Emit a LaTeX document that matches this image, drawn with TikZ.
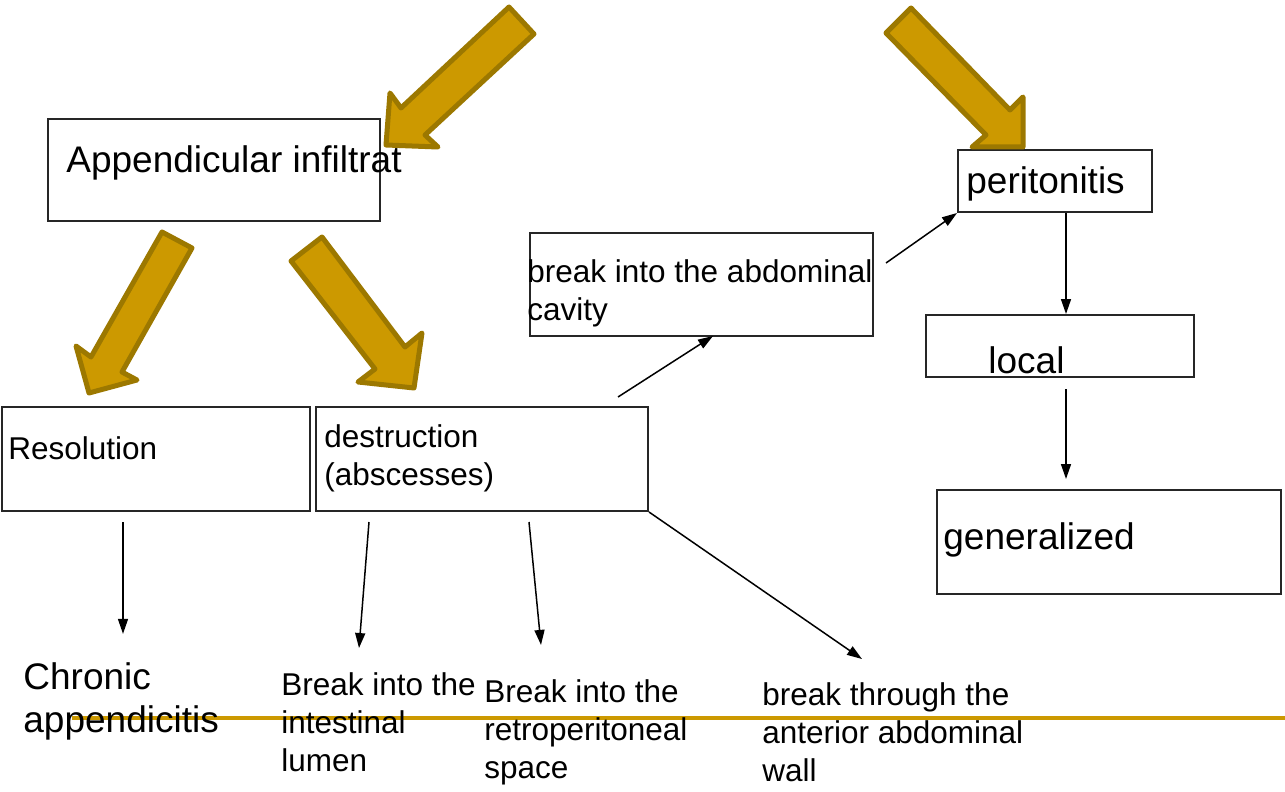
\documentclass[tikz,border=0pt]{standalone}
\usepackage{fontspec}
\setmainfont{Liberation Sans}
\usetikzlibrary{arrows.meta,calc}
\definecolor{gold}{HTML}{CC9900}
\definecolor{golddark}{HTML}{9C7800}
\begin{document}
\begin{tikzpicture}[
    x=0.5pt, y=-0.5pt,
    box/.style={
        rectangle,
        draw=black!85,
        line width=1pt,
        inner sep=0pt
    },
    txt/.style={inner sep=0pt, anchor=west, align=left},
    small/.style={font=\fontsize{15.75}{19}\selectfont},
    big/.style={font=\fontsize{18.5}{21.5}\selectfont},
    conn/.style={-{Triangle[length=7.5pt,width=5pt]}, line width=0.75pt},
    fat/.style={fill=gold, draw=golddark, line width=2.5pt, line join=round}
]
\useasboundingbox (0,0) rectangle (1285,792);

% Gold rule
\draw[gold, line width=2pt] (72,718) -- (1285,718);

% Boxes
\node[box, minimum width=166pt, minimum height=51pt] (ai) at (214,170) {};
\node[box, minimum width=97pt, minimum height=31pt] (per) at (1055,181) {};
\node[box, minimum width=171.5pt, minimum height=51.5pt] (cav) at (701.5,284.5) {};
\node[box, minimum width=134pt, minimum height=31pt] (loc) at (1060,346) {};
\node[box, minimum width=154pt, minimum height=52pt] (res) at (156,459) {};
\node[box, minimum width=166pt, minimum height=52pt] (des) at (482,459) {};
\node[box, minimum width=172pt, minimum height=52pt] (gen) at (1109,542) {};

% Texts
\node[txt, big] (aitxt) at (66,163) {Appendicular infiltrat};
\node[txt, big] (pertxt) at (966,184) {peritonitis};
\node[txt, small] (cavtxt) at (527,293) {break into the abdominal\\cavity};
\node[txt, big] (loctxt) at (988,360) {local};
\node[txt, small] (restxt) at (8,448) {Resolution};
\node[txt, small] (destxt) at (324,458) {destruction\\(abscesses)};
\node[txt, big] (gentxt) at (943,540) {generalized};
\node[txt, big] (chron) at (23,701) {Chronic\\appendicitis};
\node[txt, small] (intest) at (281,722) {Break into the\\intestinal\\lumen};
\node[txt, small] (retro) at (484,732) {Break into the\\retroperitoneal\\space};
\node[txt, small] (wall) at (762,732) {break through the\\anterior abdominal\\wall};

% Block arrows
\draw[fat] (509,7) -- (534,34) -- (425,135) -- (438,147) -- (386,145) -- (390,93) -- (401,108) -- cycle;
\draw[fat] (911,8) -- (1010,110) -- (1023,97) -- (1023,147) -- (972,147) -- (986,135) -- (886,33) -- cycle;
\draw[fat] (162,232) -- (192,248) -- (122,372) -- (137,380) -- (89,393) -- (76,346) -- (91,357) -- cycle;
\draw[fat] (322,237) -- (405,347) -- (422,333) -- (414,388) -- (358,382) -- (375,369) -- (291,261) -- cycle;

% Resolution and destruction
\draw[conn] ($(res.south)+(-33,10)$) -- ($(chron.north west)+(100,-28)$);
\draw[conn] ($(des.south west)+(54,10)$) -- ($(intest.north west)+(78,-24)$);
\draw[conn] ($(des.south west)+(214,10)$) -- ($(retro.north west)+(57,-34)$);
\draw[conn] (des.south east) -- ($(wall.north west)+(100,-23)$);
\draw[conn] ($(des.north east)+(-31,-9)$) -- ($(cav.south)+(11.5,-1)$);

% Peritonitis
\draw[conn] ($(cav.east)+(12,-21.5)$) -- (per.south west);
\draw[conn] ($(per.south)+(11,0)$) -- ($(loc.north)+(6,0)$);
\draw[conn] ($(loc.south)+(6,11)$) -- ($(gen.north)+(-43,-10)$);

\end{tikzpicture}
\end{document}
